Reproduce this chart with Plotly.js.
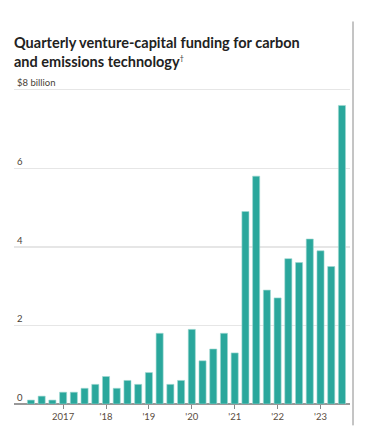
<!DOCTYPE html>
<html>
<head>
<meta charset="utf-8">
<script src="https://cdn.plot.ly/plotly-3.0.1.min.js"></script>
<style>html,body{margin:0;padding:0;background:#fff;}#chart{width:367px;height:437px;}</style>
</head>
<body>
<div id="chart"></div>
<script>
const quarters = [
  '2016 Q2','2016 Q3','2016 Q4',
  '2017 Q1','2017 Q2','2017 Q3','2017 Q4',
  '2018 Q1','2018 Q2','2018 Q3','2018 Q4',
  '2019 Q1','2019 Q2','2019 Q3','2019 Q4',
  '2020 Q1','2020 Q2','2020 Q3','2020 Q4',
  '2021 Q1','2021 Q2','2021 Q3','2021 Q4',
  '2022 Q1','2022 Q2','2022 Q3','2022 Q4',
  '2023 Q1','2023 Q2','2023 Q3'
];
const funding = [
  0.1, 0.2, 0.1,
  0.3, 0.3, 0.4, 0.5,
  0.7, 0.4, 0.6, 0.5,
  0.8, 1.8, 0.5, 0.6,
  1.9, 1.1, 1.4, 1.8,
  1.3, 4.9, 5.8, 2.9,
  2.7, 3.7, 3.6, 4.2,
  3.9, 3.5, 7.6
];
const xTickVals = ['2017 Q1','2018 Q1','2019 Q1','2020 Q1','2021 Q1','2022 Q1','2023 Q1'];
const xTickText = ['2017',"'18","'19","'20","'21","'22","'23"];
const yTickVals = [0, 2, 4, 6, 8];
const yTickText = ['0', '2', '4', '6', '$8 billion'];

const trace = {
  type: 'bar',
  x: quarters,
  y: funding,
  width: 0.66,
  marker: {color: '#2aa79c', line: {color: '#9fd8d2', width: 0.6}},
  hoverinfo: 'x+y'
};

const plotTop = 74.4, plotBottom = 403.7, plotH = plotBottom - plotTop;

const layout = {
  width: 367, height: 437,
  margin: {l: 14, r: 17, t: plotTop, b: 437 - plotBottom},
  paper_bgcolor: '#fff', plot_bgcolor: '#fff',
  showlegend: false,
  font: {family: 'Lato, "Noto Sans", sans-serif', color: '#4a4a4a'},
  title: {
    text: '<b>Quarterly venture-capital funding for carbon<br>and emissions technology</b><sup><span style="font-size:7px">†</span></sup>',
    x: 14/367, xanchor: 'left', xref: 'container',
    y: 1 - 48/437, yanchor: 'top', yref: 'container',
    font: {family: 'Lato, sans-serif', size: 14.5, color: '#222'}
  },
  xaxis: {
    type: 'category',
    range: [-1.58, 29.75],
    tickmode: 'array', tickvals: xTickVals, ticktext: xTickText,
    ticks: 'outside', ticklen: 4, tickcolor: '#888', tickwidth: 1,
    showgrid: false, showline: false, zeroline: false,
    tickfont: {size: 9.5, color: '#5a4c40', family: 'Lato, sans-serif'}
  },
  yaxis: {
    range: [0, 8.4],
    tickmode: 'array', tickvals: yTickVals, ticktext: yTickText,
    ticklabelposition: 'inside top',
    ticks: '',
    showgrid: true, gridcolor: '#e6e6e6', gridwidth: 1.5,
    zeroline: true, zerolinecolor: '#999', zerolinewidth: 1.2,
    showline: false,
    tickfont: {size: 9.5, color: '#4a3f36', family: 'Lato, sans-serif'}
  },
  shapes: [{
    type: 'line', xref: 'paper', yref: 'paper',
    x0: (353 - 14) / 336, x1: (353 - 14) / 336,
    y0: (plotBottom - 22) / plotH, y1: (plotBottom - 425) / plotH,
    line: {color: '#8a8a8a', width: 1}
  }]
};

Plotly.newPlot('chart', [trace], layout, {displayModeBar: false, staticPlot: true});
</script>
</body>
</html>
